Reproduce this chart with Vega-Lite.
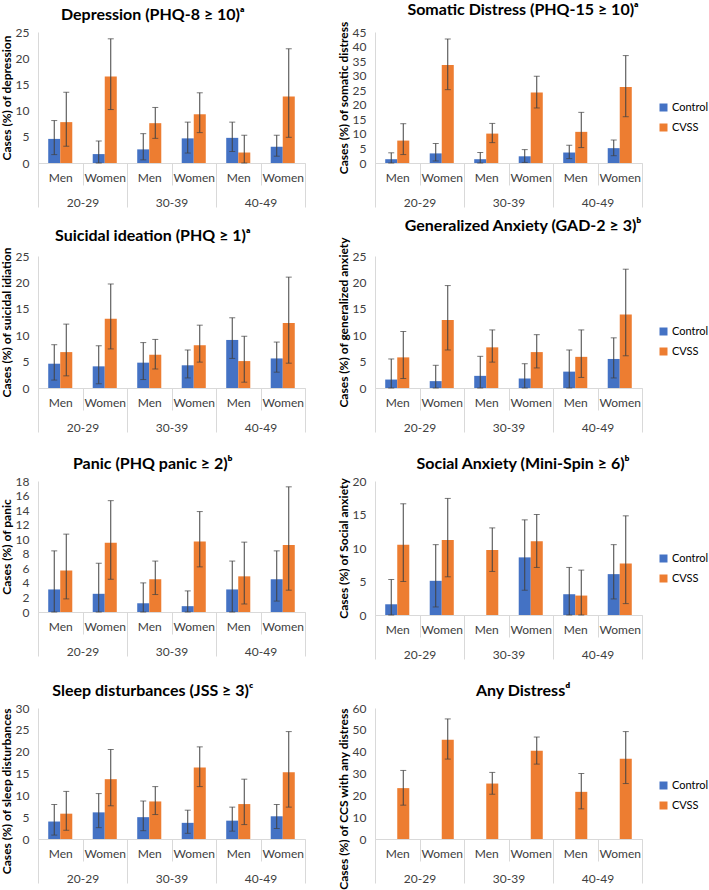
{
  "$schema": "https://vega.github.io/schema/vega-lite/v6.json",
  "padding": {"left": 0, "top": 2, "right": 0, "bottom": 0},
  "background": "white",
  "data": {"values": [
    {"p":"dep","cell":"20-29 Men","age":"20-29","g":"Control","v":4.6,"lo":1.6,"hi":8.1},
    {"p":"dep","cell":"20-29 Men","age":"20-29","g":"CVSS","v":7.8,"lo":3.2,"hi":13.5},
    {"p":"dep","cell":"20-29 Women","age":"20-29","g":"Control","v":1.7,"lo":0,"hi":4.2},
    {"p":"dep","cell":"20-29 Women","age":"20-29","g":"CVSS","v":16.5,"lo":10.2,"hi":23.7},
    {"p":"dep","cell":"30-39 Men","age":"30-39","g":"Control","v":2.6,"lo":0.6,"hi":5.6},
    {"p":"dep","cell":"30-39 Men","age":"30-39","g":"CVSS","v":7.6,"lo":4.7,"hi":10.6},
    {"p":"dep","cell":"30-39 Women","age":"30-39","g":"Control","v":4.7,"lo":1.9,"hi":7.8},
    {"p":"dep","cell":"30-39 Women","age":"30-39","g":"CVSS","v":9.3,"lo":5.8,"hi":13.4},
    {"p":"dep","cell":"40-49 Men","age":"40-49","g":"Control","v":4.8,"lo":2.2,"hi":7.8},
    {"p":"dep","cell":"40-49 Men","age":"40-49","g":"CVSS","v":2.0,"lo":0,"hi":5.3},
    {"p":"dep","cell":"40-49 Women","age":"40-49","g":"Control","v":3.1,"lo":1.3,"hi":5.3},
    {"p":"dep","cell":"40-49 Women","age":"40-49","g":"CVSS","v":12.7,"lo":4.9,"hi":21.8},

    {"p":"som","cell":"20-29 Men","age":"20-29","g":"Control","v":1.3,"lo":0,"hi":3.5},
    {"p":"som","cell":"20-29 Men","age":"20-29","g":"CVSS","v":7.7,"lo":2.9,"hi":13.5},
    {"p":"som","cell":"20-29 Women","age":"20-29","g":"Control","v":3.3,"lo":0.7,"hi":6.7},
    {"p":"som","cell":"20-29 Women","age":"20-29","g":"CVSS","v":33.7,"lo":25.2,"hi":42.6},
    {"p":"som","cell":"30-39 Men","age":"30-39","g":"Control","v":1.3,"lo":0,"hi":3.6},
    {"p":"som","cell":"30-39 Men","age":"30-39","g":"CVSS","v":10.1,"lo":7.0,"hi":13.6},
    {"p":"som","cell":"30-39 Women","age":"30-39","g":"Control","v":2.3,"lo":0.2,"hi":4.6},
    {"p":"som","cell":"30-39 Women","age":"30-39","g":"CVSS","v":24.2,"lo":18.9,"hi":29.8},
    {"p":"som","cell":"40-49 Men","age":"40-49","g":"Control","v":3.6,"lo":1.5,"hi":6.1},
    {"p":"som","cell":"40-49 Men","age":"40-49","g":"CVSS","v":10.7,"lo":5.3,"hi":17.4},
    {"p":"som","cell":"40-49 Women","age":"40-49","g":"Control","v":5.1,"lo":2.5,"hi":7.9},
    {"p":"som","cell":"40-49 Women","age":"40-49","g":"CVSS","v":26.1,"lo":15.9,"hi":36.9},

    {"p":"sui","cell":"20-29 Men","age":"20-29","g":"Control","v":4.6,"lo":1.5,"hi":8.2},
    {"p":"sui","cell":"20-29 Men","age":"20-29","g":"CVSS","v":6.8,"lo":2.3,"hi":12.1},
    {"p":"sui","cell":"20-29 Women","age":"20-29","g":"Control","v":4.1,"lo":0.8,"hi":8.0},
    {"p":"sui","cell":"20-29 Women","age":"20-29","g":"CVSS","v":13.1,"lo":7.4,"hi":19.7},
    {"p":"sui","cell":"30-39 Men","age":"30-39","g":"Control","v":4.8,"lo":1.6,"hi":8.6},
    {"p":"sui","cell":"30-39 Men","age":"30-39","g":"CVSS","v":6.3,"lo":3.6,"hi":9.2},
    {"p":"sui","cell":"30-39 Women","age":"30-39","g":"Control","v":4.3,"lo":1.9,"hi":7.2},
    {"p":"sui","cell":"30-39 Women","age":"30-39","g":"CVSS","v":8.1,"lo":4.9,"hi":11.9},
    {"p":"sui","cell":"40-49 Men","age":"40-49","g":"Control","v":9.1,"lo":5.6,"hi":13.3},
    {"p":"sui","cell":"40-49 Men","age":"40-49","g":"CVSS","v":5.1,"lo":1.1,"hi":9.8},
    {"p":"sui","cell":"40-49 Women","age":"40-49","g":"Control","v":5.6,"lo":3.0,"hi":8.7},
    {"p":"sui","cell":"40-49 Women","age":"40-49","g":"CVSS","v":12.3,"lo":4.7,"hi":21.0},

    {"p":"gad","cell":"20-29 Men","age":"20-29","g":"Control","v":1.6,"lo":0,"hi":5.5},
    {"p":"gad","cell":"20-29 Men","age":"20-29","g":"CVSS","v":5.8,"lo":1.8,"hi":10.7},
    {"p":"gad","cell":"20-29 Women","age":"20-29","g":"Control","v":1.3,"lo":0,"hi":4.3},
    {"p":"gad","cell":"20-29 Women","age":"20-29","g":"CVSS","v":12.9,"lo":7.2,"hi":19.4},
    {"p":"gad","cell":"30-39 Men","age":"30-39","g":"Control","v":2.3,"lo":0,"hi":6.0},
    {"p":"gad","cell":"30-39 Men","age":"30-39","g":"CVSS","v":7.7,"lo":4.9,"hi":11.0},
    {"p":"gad","cell":"30-39 Women","age":"30-39","g":"Control","v":1.8,"lo":0,"hi":4.6},
    {"p":"gad","cell":"30-39 Women","age":"30-39","g":"CVSS","v":6.8,"lo":3.8,"hi":10.1},
    {"p":"gad","cell":"40-49 Men","age":"40-49","g":"Control","v":3.1,"lo":0,"hi":7.2},
    {"p":"gad","cell":"40-49 Men","age":"40-49","g":"CVSS","v":5.9,"lo":2.0,"hi":11.0},
    {"p":"gad","cell":"40-49 Women","age":"40-49","g":"Control","v":5.5,"lo":1.9,"hi":9.5},
    {"p":"gad","cell":"40-49 Women","age":"40-49","g":"CVSS","v":13.9,"lo":6.1,"hi":22.5},

    {"p":"pan","cell":"20-29 Men","age":"20-29","g":"Control","v":3.1,"lo":0,"hi":8.4},
    {"p":"pan","cell":"20-29 Men","age":"20-29","g":"CVSS","v":5.7,"lo":1.8,"hi":10.7},
    {"p":"pan","cell":"20-29 Women","age":"20-29","g":"Control","v":2.5,"lo":0,"hi":6.7},
    {"p":"pan","cell":"20-29 Women","age":"20-29","g":"CVSS","v":9.5,"lo":4.5,"hi":15.3},
    {"p":"pan","cell":"30-39 Men","age":"30-39","g":"Control","v":1.2,"lo":0,"hi":4.0},
    {"p":"pan","cell":"30-39 Men","age":"30-39","g":"CVSS","v":4.5,"lo":2.4,"hi":7.0},
    {"p":"pan","cell":"30-39 Women","age":"30-39","g":"Control","v":0.8,"lo":0,"hi":2.9},
    {"p":"pan","cell":"30-39 Women","age":"30-39","g":"CVSS","v":9.7,"lo":6.2,"hi":13.8},
    {"p":"pan","cell":"40-49 Men","age":"40-49","g":"Control","v":3.1,"lo":0,"hi":7.0},
    {"p":"pan","cell":"40-49 Men","age":"40-49","g":"CVSS","v":4.9,"lo":1.1,"hi":9.6},
    {"p":"pan","cell":"40-49 Women","age":"40-49","g":"Control","v":4.5,"lo":1.5,"hi":8.4},
    {"p":"pan","cell":"40-49 Women","age":"40-49","g":"CVSS","v":9.2,"lo":3.0,"hi":17.2},

    {"p":"soc","cell":"20-29 Men","age":"20-29","g":"Control","v":1.6,"lo":0,"hi":5.3},
    {"p":"soc","cell":"20-29 Men","age":"20-29","g":"CVSS","v":10.5,"lo":5.0,"hi":16.6},
    {"p":"soc","cell":"20-29 Women","age":"20-29","g":"Control","v":5.1,"lo":1.2,"hi":10.5},
    {"p":"soc","cell":"20-29 Women","age":"20-29","g":"CVSS","v":11.2,"lo":5.7,"hi":17.4},
    {"p":"soc","cell":"30-39 Men","age":"30-39","g":"Control","v":0,"lo":null,"hi":null},
    {"p":"soc","cell":"30-39 Men","age":"30-39","g":"CVSS","v":9.7,"lo":6.5,"hi":13.0},
    {"p":"soc","cell":"30-39 Women","age":"30-39","g":"Control","v":8.6,"lo":3.7,"hi":14.2},
    {"p":"soc","cell":"30-39 Women","age":"30-39","g":"CVSS","v":11.0,"lo":7.1,"hi":15.0},
    {"p":"soc","cell":"40-49 Men","age":"40-49","g":"Control","v":3.1,"lo":0,"hi":7.1},
    {"p":"soc","cell":"40-49 Men","age":"40-49","g":"CVSS","v":2.9,"lo":0,"hi":6.7},
    {"p":"soc","cell":"40-49 Women","age":"40-49","g":"Control","v":6.1,"lo":2.4,"hi":10.5},
    {"p":"soc","cell":"40-49 Women","age":"40-49","g":"CVSS","v":7.7,"lo":1.7,"hi":14.8},

    {"p":"slp","cell":"20-29 Men","age":"20-29","g":"Control","v":4.0,"lo":0.9,"hi":7.9},
    {"p":"slp","cell":"20-29 Men","age":"20-29","g":"CVSS","v":5.8,"lo":2.0,"hi":10.9},
    {"p":"slp","cell":"20-29 Women","age":"20-29","g":"Control","v":6.1,"lo":2.6,"hi":10.4},
    {"p":"slp","cell":"20-29 Women","age":"20-29","g":"CVSS","v":13.7,"lo":7.6,"hi":20.5},
    {"p":"slp","cell":"30-39 Men","age":"30-39","g":"Control","v":5.0,"lo":1.9,"hi":8.7},
    {"p":"slp","cell":"30-39 Men","age":"30-39","g":"CVSS","v":8.6,"lo":5.6,"hi":12.0},
    {"p":"slp","cell":"30-39 Women","age":"30-39","g":"Control","v":3.7,"lo":1.3,"hi":6.6},
    {"p":"slp","cell":"30-39 Women","age":"30-39","g":"CVSS","v":16.4,"lo":12.0,"hi":21.1},
    {"p":"slp","cell":"40-49 Men","age":"40-49","g":"Control","v":4.2,"lo":1.8,"hi":7.3},
    {"p":"slp","cell":"40-49 Men","age":"40-49","g":"CVSS","v":8.0,"lo":3.3,"hi":13.7},
    {"p":"slp","cell":"40-49 Women","age":"40-49","g":"Control","v":5.2,"lo":2.4,"hi":7.9},
    {"p":"slp","cell":"40-49 Women","age":"40-49","g":"CVSS","v":15.3,"lo":7.3,"hi":24.6},

    {"p":"any","cell":"20-29 Men","age":"20-29","g":"CVSS","v":23.3,"lo":15.5,"hi":31.4},
    {"p":"any","cell":"20-29 Women","age":"20-29","g":"CVSS","v":45.5,"lo":36.6,"hi":55.0},
    {"p":"any","cell":"30-39 Men","age":"30-39","g":"CVSS","v":25.4,"lo":20.5,"hi":30.5},
    {"p":"any","cell":"30-39 Women","age":"30-39","g":"CVSS","v":40.4,"lo":34.3,"hi":46.7},
    {"p":"any","cell":"40-49 Men","age":"40-49","g":"CVSS","v":21.6,"lo":13.8,"hi":30.0},
    {"p":"any","cell":"40-49 Women","age":"40-49","g":"CVSS","v":36.7,"lo":25.4,"hi":49.2}
  ]},
  "bounds": "flush",
  "columns": 2,
  "spacing": {"row": 93, "column": 70},
  "concat": [
      {"width": 267, "height": 131, "title": {"text": "Depression (PHQ-8 ≥ 10)ᵃ"},
       "transform": [{"filter": "datum.p === 'dep'"}],
       "layer": [
         {"encoding": {
            "x": {"field": "cell", "type": "nominal", "scale": {"paddingInner": 0, "paddingOuter": 0}, "axis": {"orient": "bottom", "title": null, "labelExpr": "split(datum.value, ' ')[1]", "labelAngle": 0, "tickBand": "extent", "tickSize": 22, "tickColor": "#D9D9D9", "domainColor": "#D9D9D9", "labelPadding": -13}},
            "xOffset": {"field": "g", "type": "nominal", "scale": {"domain": ["Control", "CVSS"], "paddingInner": 0, "paddingOuter": 0.85}}},
          "layer": [
            {"mark": {"type": "bar"}, "encoding": {"y": {"field": "v", "type": "quantitative", "scale": {"domain": [0, 25], "nice": false}, "axis": {"title": "Cases (%) of depression", "values": [0,5,10,15,20,25], "tickCount": 30, "format": "d", "labelOverlap": false}}, "color": {"field": "g", "type": "nominal", "scale": {"domain": ["Control", "CVSS"], "range": ["#4472C4", "#ED7D31"]}, "legend": null}}},
            {"mark": {"type": "rule", "color": "#404040", "strokeWidth": 1}, "encoding": {"y": {"field": "lo", "type": "quantitative"}, "y2": {"field": "hi"}}},
            {"mark": {"type": "tick", "color": "#404040", "size": 6, "thickness": 1}, "encoding": {"y": {"field": "hi", "type": "quantitative"}}},
            {"mark": {"type": "tick", "color": "#404040", "size": 6, "thickness": 1}, "encoding": {"y": {"field": "lo", "type": "quantitative"}}}
          ]},
         {"mark": {"type": "text", "text": ""}, "encoding": {"x": {"field": "age", "type": "nominal", "scale": {"paddingInner": 0, "paddingOuter": 0}, "axis": {"orient": "bottom", "title": null, "labelAngle": 0, "domain": false, "tickBand": "extent", "tickSize": 44, "tickColor": "#D9D9D9", "labelPadding": -10}}}}
       ],
       "resolve": {"scale": {"x": "independent"}}},
      {"width": 267, "height": 131, "title": {"text": "Somatic Distress (PHQ-15 ≥ 10)ᵃ"},
       "transform": [{"filter": "datum.p === 'som'"}],
       "layer": [
         {"encoding": {
            "x": {"field": "cell", "type": "nominal", "scale": {"paddingInner": 0, "paddingOuter": 0}, "axis": {"orient": "bottom", "title": null, "labelExpr": "split(datum.value, ' ')[1]", "labelAngle": 0, "tickBand": "extent", "tickSize": 22, "tickColor": "#D9D9D9", "domainColor": "#D9D9D9", "labelPadding": -13}},
            "xOffset": {"field": "g", "type": "nominal", "scale": {"domain": ["Control", "CVSS"], "paddingInner": 0, "paddingOuter": 0.85}}},
          "layer": [
            {"mark": {"type": "bar"}, "encoding": {"y": {"field": "v", "type": "quantitative", "scale": {"domain": [0, 45], "nice": false}, "axis": {"title": "Cases (%) of somatic distress", "values": [0,5,10,15,20,25,30,35,40,45], "tickCount": 30, "format": "d", "labelOverlap": false}}, "color": {"field": "g", "type": "nominal", "scale": {"domain": ["Control", "CVSS"], "range": ["#4472C4", "#ED7D31"]}, "legend": {"title": null, "orient": "none", "legendX": 283, "legendY": 70}}}},
            {"mark": {"type": "rule", "color": "#404040", "strokeWidth": 1}, "encoding": {"y": {"field": "lo", "type": "quantitative"}, "y2": {"field": "hi"}}},
            {"mark": {"type": "tick", "color": "#404040", "size": 6, "thickness": 1}, "encoding": {"y": {"field": "hi", "type": "quantitative"}}},
            {"mark": {"type": "tick", "color": "#404040", "size": 6, "thickness": 1}, "encoding": {"y": {"field": "lo", "type": "quantitative"}}}
          ]},
         {"mark": {"type": "text", "text": ""}, "encoding": {"x": {"field": "age", "type": "nominal", "scale": {"paddingInner": 0, "paddingOuter": 0}, "axis": {"orient": "bottom", "title": null, "labelAngle": 0, "domain": false, "tickBand": "extent", "tickSize": 44, "tickColor": "#D9D9D9", "labelPadding": -10}}}}
       ],
       "resolve": {"scale": {"x": "independent"}}},
      {"width": 267, "height": 132, "title": {"text": "Suicidal ideation (PHQ ≥ 1)ᵃ"},
       "transform": [{"filter": "datum.p === 'sui'"}],
       "layer": [
         {"encoding": {
            "x": {"field": "cell", "type": "nominal", "scale": {"paddingInner": 0, "paddingOuter": 0}, "axis": {"orient": "bottom", "title": null, "labelExpr": "split(datum.value, ' ')[1]", "labelAngle": 0, "tickBand": "extent", "tickSize": 22, "tickColor": "#D9D9D9", "domainColor": "#D9D9D9", "labelPadding": -13}},
            "xOffset": {"field": "g", "type": "nominal", "scale": {"domain": ["Control", "CVSS"], "paddingInner": 0, "paddingOuter": 0.85}}},
          "layer": [
            {"mark": {"type": "bar"}, "encoding": {"y": {"field": "v", "type": "quantitative", "scale": {"domain": [0, 25], "nice": false}, "axis": {"title": "Cases (%) of suicidal idiation", "values": [0,5,10,15,20,25], "tickCount": 30, "format": "d", "labelOverlap": false}}, "color": {"field": "g", "type": "nominal", "scale": {"domain": ["Control", "CVSS"], "range": ["#4472C4", "#ED7D31"]}, "legend": null}}},
            {"mark": {"type": "rule", "color": "#404040", "strokeWidth": 1}, "encoding": {"y": {"field": "lo", "type": "quantitative"}, "y2": {"field": "hi"}}},
            {"mark": {"type": "tick", "color": "#404040", "size": 6, "thickness": 1}, "encoding": {"y": {"field": "hi", "type": "quantitative"}}},
            {"mark": {"type": "tick", "color": "#404040", "size": 6, "thickness": 1}, "encoding": {"y": {"field": "lo", "type": "quantitative"}}}
          ]},
         {"mark": {"type": "text", "text": ""}, "encoding": {"x": {"field": "age", "type": "nominal", "scale": {"paddingInner": 0, "paddingOuter": 0}, "axis": {"orient": "bottom", "title": null, "labelAngle": 0, "domain": false, "tickBand": "extent", "tickSize": 44, "tickColor": "#D9D9D9", "labelPadding": -10}}}}
       ],
       "resolve": {"scale": {"x": "independent"}}},
      {"width": 267, "height": 132, "title": {"text": "Generalized Anxiety (GAD-2 ≥ 3)ᵇ"},
       "transform": [{"filter": "datum.p === 'gad'"}],
       "layer": [
         {"encoding": {
            "x": {"field": "cell", "type": "nominal", "scale": {"paddingInner": 0, "paddingOuter": 0}, "axis": {"orient": "bottom", "title": null, "labelExpr": "split(datum.value, ' ')[1]", "labelAngle": 0, "tickBand": "extent", "tickSize": 22, "tickColor": "#D9D9D9", "domainColor": "#D9D9D9", "labelPadding": -13}},
            "xOffset": {"field": "g", "type": "nominal", "scale": {"domain": ["Control", "CVSS"], "paddingInner": 0, "paddingOuter": 0.85}}},
          "layer": [
            {"mark": {"type": "bar"}, "encoding": {"y": {"field": "v", "type": "quantitative", "scale": {"domain": [0, 25], "nice": false}, "axis": {"title": "Cases (%) of generalized anxiety", "values": [0,5,10,15,20,25], "tickCount": 30, "format": "d", "labelOverlap": false}}, "color": {"field": "g", "type": "nominal", "scale": {"domain": ["Control", "CVSS"], "range": ["#4472C4", "#ED7D31"]}, "legend": {"title": null, "orient": "none", "legendX": 283, "legendY": 70}}}},
            {"mark": {"type": "rule", "color": "#404040", "strokeWidth": 1}, "encoding": {"y": {"field": "lo", "type": "quantitative"}, "y2": {"field": "hi"}}},
            {"mark": {"type": "tick", "color": "#404040", "size": 6, "thickness": 1}, "encoding": {"y": {"field": "hi", "type": "quantitative"}}},
            {"mark": {"type": "tick", "color": "#404040", "size": 6, "thickness": 1}, "encoding": {"y": {"field": "lo", "type": "quantitative"}}}
          ]},
         {"mark": {"type": "text", "text": ""}, "encoding": {"x": {"field": "age", "type": "nominal", "scale": {"paddingInner": 0, "paddingOuter": 0}, "axis": {"orient": "bottom", "title": null, "labelAngle": 0, "domain": false, "tickBand": "extent", "tickSize": 44, "tickColor": "#D9D9D9", "labelPadding": -10}}}}
       ],
       "resolve": {"scale": {"x": "independent"}}},
      {"width": 267, "height": 131, "title": {"text": "Panic (PHQ panic ≥ 2)ᵇ"},
       "transform": [{"filter": "datum.p === 'pan'"}],
       "layer": [
         {"encoding": {
            "x": {"field": "cell", "type": "nominal", "scale": {"paddingInner": 0, "paddingOuter": 0}, "axis": {"orient": "bottom", "title": null, "labelExpr": "split(datum.value, ' ')[1]", "labelAngle": 0, "tickBand": "extent", "tickSize": 22, "tickColor": "#D9D9D9", "domainColor": "#D9D9D9", "labelPadding": -13}},
            "xOffset": {"field": "g", "type": "nominal", "scale": {"domain": ["Control", "CVSS"], "paddingInner": 0, "paddingOuter": 0.85}}},
          "layer": [
            {"mark": {"type": "bar"}, "encoding": {"y": {"field": "v", "type": "quantitative", "scale": {"domain": [0, 18], "nice": false}, "axis": {"title": "Cases (%) of panic", "values": [0,2,4,6,8,10,12,14,16,18], "tickCount": 30, "format": "d", "labelOverlap": false}}, "color": {"field": "g", "type": "nominal", "scale": {"domain": ["Control", "CVSS"], "range": ["#4472C4", "#ED7D31"]}, "legend": null}}},
            {"mark": {"type": "rule", "color": "#404040", "strokeWidth": 1}, "encoding": {"y": {"field": "lo", "type": "quantitative"}, "y2": {"field": "hi"}}},
            {"mark": {"type": "tick", "color": "#404040", "size": 6, "thickness": 1}, "encoding": {"y": {"field": "hi", "type": "quantitative"}}},
            {"mark": {"type": "tick", "color": "#404040", "size": 6, "thickness": 1}, "encoding": {"y": {"field": "lo", "type": "quantitative"}}}
          ]},
         {"mark": {"type": "text", "text": ""}, "encoding": {"x": {"field": "age", "type": "nominal", "scale": {"paddingInner": 0, "paddingOuter": 0}, "axis": {"orient": "bottom", "title": null, "labelAngle": 0, "domain": false, "tickBand": "extent", "tickSize": 44, "tickColor": "#D9D9D9", "labelPadding": -10}}}}
       ],
       "resolve": {"scale": {"x": "independent"}}},
      {"width": 267, "height": 134, "title": {"text": "Social Anxiety (Mini-Spin ≥ 6)ᵇ"},
       "transform": [{"filter": "datum.p === 'soc'"}],
       "layer": [
         {"encoding": {
            "x": {"field": "cell", "type": "nominal", "scale": {"paddingInner": 0, "paddingOuter": 0}, "axis": {"orient": "bottom", "title": null, "labelExpr": "split(datum.value, ' ')[1]", "labelAngle": 0, "tickBand": "extent", "tickSize": 22, "tickColor": "#D9D9D9", "domainColor": "#D9D9D9", "labelPadding": -13}},
            "xOffset": {"field": "g", "type": "nominal", "scale": {"domain": ["Control", "CVSS"], "paddingInner": 0, "paddingOuter": 0.85}}},
          "layer": [
            {"mark": {"type": "bar"}, "encoding": {"y": {"field": "v", "type": "quantitative", "scale": {"domain": [0, 20], "nice": false}, "axis": {"title": "Cases (%) of Social anxiety", "values": [0,5,10,15,20], "tickCount": 30, "format": "d", "labelOverlap": false}}, "color": {"field": "g", "type": "nominal", "scale": {"domain": ["Control", "CVSS"], "range": ["#4472C4", "#ED7D31"]}, "legend": {"title": null, "orient": "none", "legendX": 283, "legendY": 72}}}},
            {"mark": {"type": "rule", "color": "#404040", "strokeWidth": 1}, "encoding": {"y": {"field": "lo", "type": "quantitative"}, "y2": {"field": "hi"}}},
            {"mark": {"type": "tick", "color": "#404040", "size": 6, "thickness": 1}, "encoding": {"y": {"field": "hi", "type": "quantitative"}}},
            {"mark": {"type": "tick", "color": "#404040", "size": 6, "thickness": 1}, "encoding": {"y": {"field": "lo", "type": "quantitative"}}}
          ]},
         {"mark": {"type": "text", "text": ""}, "encoding": {"x": {"field": "age", "type": "nominal", "scale": {"paddingInner": 0, "paddingOuter": 0}, "axis": {"orient": "bottom", "title": null, "labelAngle": 0, "domain": false, "tickBand": "extent", "tickSize": 44, "tickColor": "#D9D9D9", "labelPadding": -10}}}}
       ],
       "resolve": {"scale": {"x": "independent"}}},
      {"width": 267, "height": 131, "title": {"text": "Sleep disturbances (JSS ≥ 3)ᶜ"},
       "transform": [{"filter": "datum.p === 'slp'"}],
       "layer": [
         {"encoding": {
            "x": {"field": "cell", "type": "nominal", "scale": {"paddingInner": 0, "paddingOuter": 0}, "axis": {"orient": "bottom", "title": null, "labelExpr": "split(datum.value, ' ')[1]", "labelAngle": 0, "tickBand": "extent", "tickSize": 22, "tickColor": "#D9D9D9", "domainColor": "#D9D9D9", "labelPadding": -13}},
            "xOffset": {"field": "g", "type": "nominal", "scale": {"domain": ["Control", "CVSS"], "paddingInner": 0, "paddingOuter": 0.85}}},
          "layer": [
            {"mark": {"type": "bar"}, "encoding": {"y": {"field": "v", "type": "quantitative", "scale": {"domain": [0, 30], "nice": false}, "axis": {"title": "Cases (%) of sleep disturbances", "titleAnchor": "end", "values": [0,5,10,15,20,25,30], "tickCount": 30, "format": "d", "labelOverlap": false}}, "color": {"field": "g", "type": "nominal", "scale": {"domain": ["Control", "CVSS"], "range": ["#4472C4", "#ED7D31"]}, "legend": null}}},
            {"mark": {"type": "rule", "color": "#404040", "strokeWidth": 1}, "encoding": {"y": {"field": "lo", "type": "quantitative"}, "y2": {"field": "hi"}}},
            {"mark": {"type": "tick", "color": "#404040", "size": 6, "thickness": 1}, "encoding": {"y": {"field": "hi", "type": "quantitative"}}},
            {"mark": {"type": "tick", "color": "#404040", "size": 6, "thickness": 1}, "encoding": {"y": {"field": "lo", "type": "quantitative"}}}
          ]},
         {"mark": {"type": "text", "text": ""}, "encoding": {"x": {"field": "age", "type": "nominal", "scale": {"paddingInner": 0, "paddingOuter": 0}, "axis": {"orient": "bottom", "title": null, "labelAngle": 0, "domain": false, "tickBand": "extent", "tickSize": 44, "tickColor": "#D9D9D9", "labelPadding": -10}}}}
       ],
       "resolve": {"scale": {"x": "independent"}}},
      {"width": 267, "height": 131, "title": {"text": "Any Distressᵈ"},
       "transform": [{"filter": "datum.p === 'any'"}],
       "layer": [
         {"encoding": {
            "x": {"field": "cell", "type": "nominal", "scale": {"paddingInner": 0, "paddingOuter": 0}, "axis": {"orient": "bottom", "title": null, "labelExpr": "split(datum.value, ' ')[1]", "labelAngle": 0, "tickBand": "extent", "tickSize": 22, "tickColor": "#D9D9D9", "domainColor": "#D9D9D9", "labelPadding": -13}},
            "xOffset": {"field": "g", "type": "nominal", "scale": {"domain": ["Control", "CVSS"], "paddingInner": 0, "paddingOuter": 0.85}}},
          "layer": [
            {"mark": {"type": "bar"}, "encoding": {"y": {"field": "v", "type": "quantitative", "scale": {"domain": [0, 60], "nice": false}, "axis": {"title": "Cases (%) of CCS with any distress", "titleAnchor": "end", "values": [0,10,20,30,40,50,60], "tickCount": 30, "format": "d", "labelOverlap": false}}, "color": {"field": "g", "type": "nominal", "scale": {"domain": ["Control", "CVSS"], "range": ["#4472C4", "#ED7D31"]}, "legend": {"title": null, "orient": "none", "legendX": 283, "legendY": 72}}}},
            {"mark": {"type": "rule", "color": "#404040", "strokeWidth": 1}, "encoding": {"y": {"field": "lo", "type": "quantitative"}, "y2": {"field": "hi"}}},
            {"mark": {"type": "tick", "color": "#404040", "size": 6, "thickness": 1}, "encoding": {"y": {"field": "hi", "type": "quantitative"}}},
            {"mark": {"type": "tick", "color": "#404040", "size": 6, "thickness": 1}, "encoding": {"y": {"field": "lo", "type": "quantitative"}}}
          ]},
         {"mark": {"type": "text", "text": ""}, "encoding": {"x": {"field": "age", "type": "nominal", "scale": {"paddingInner": 0, "paddingOuter": 0}, "axis": {"orient": "bottom", "title": null, "labelAngle": 0, "domain": false, "tickBand": "extent", "tickSize": 44, "tickColor": "#D9D9D9", "labelPadding": -10}}}}
       ],
       "resolve": {"scale": {"x": "independent"}}}
  ],
  "resolve": {"scale": {"color": "independent"}, "legend": {"color": "independent"}},
  "config": {
    "font": "Lato",
    "view": {"stroke": null},
    "axis": {"labelFont": "Lato", "titleFont": "Lato", "labelFontSize": 12, "labelColor": "#404040", "grid": false},
    "axisY": {"ticks": false, "domainColor": "#D9D9D9", "labelPadding": 9, "titleFontSize": 12, "titleFontWeight": "bold", "titleColor": "#000000", "titlePadding": 2},
    "title": {"font": "Lato", "fontSize": 16, "fontWeight": "bold", "color": "#000000", "anchor": "middle", "frame": "bounds", "offset": 3},
    "legend": {"symbolType": "square", "symbolSize": 64, "symbolStrokeWidth": 0, "labelFont": "Lato", "labelFontSize": 11, "labelColor": "#000000", "rowPadding": 8, "labelOffset": 3},
    "bar": {"stroke": null}
  }
}
